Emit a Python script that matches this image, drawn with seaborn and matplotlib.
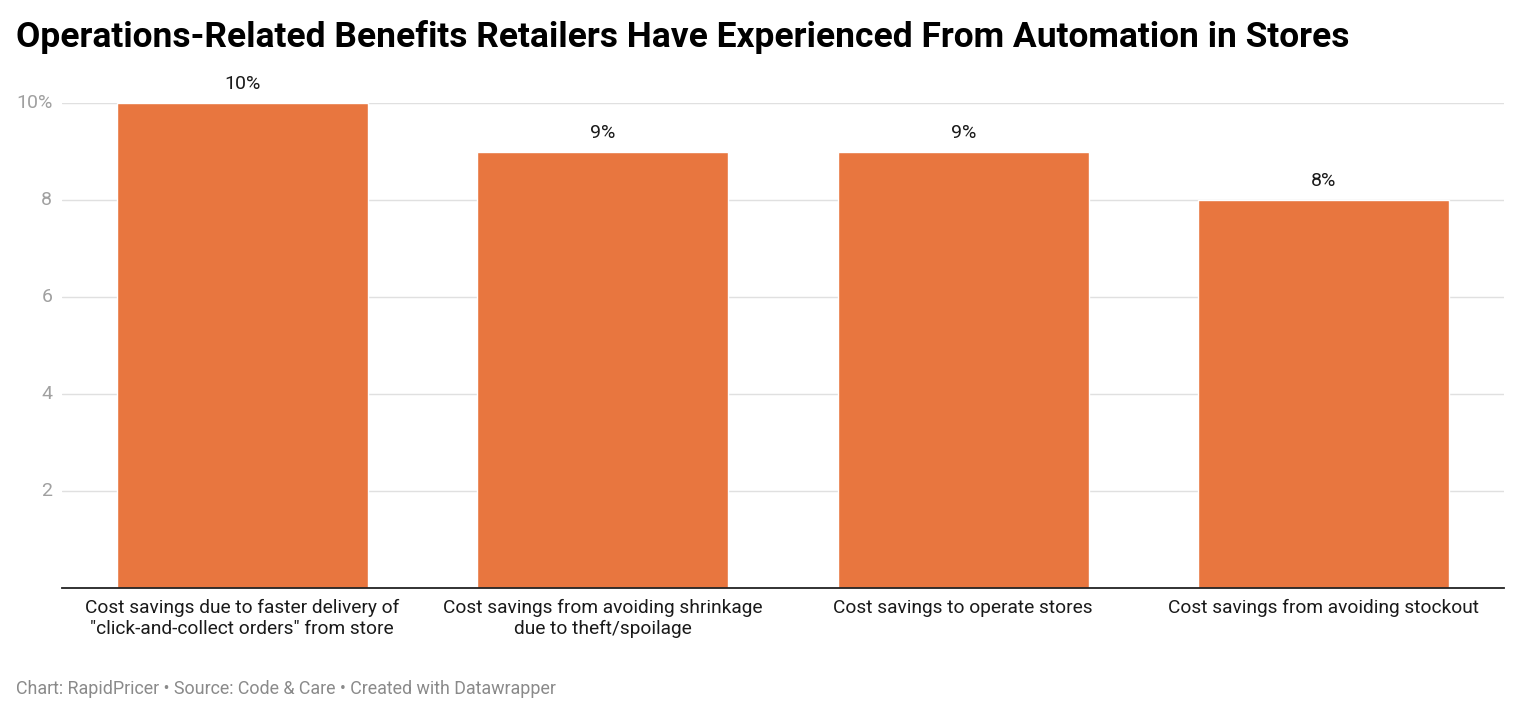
import pandas as pd
import matplotlib.pyplot as plt
import seaborn as sns

categories = ['Cost savings due to faster delivery of\n"click-and-collect orders" from store',
              'Cost savings from avoiding shrinkage\ndue to theft/spoilage',
              'Cost savings to operate stores',
              'Cost savings from avoiding stockout']
values = [10, 9, 9, 8]
yticks = [2, 4, 6, 8, 10]
ytick_labels = ['2', '4', '6', '8', '10%']

df = pd.DataFrame({'benefit': categories, 'pct': values})

sns.set_style('white')
plt.rcParams['font.family'] = ['Roboto', 'DejaVu Sans']

fig = plt.figure(figsize=(15.2, 7.16), dpi=100)
ax = fig.add_axes([62 / 1520, 1 - 588 / 716, 1442 / 1520, 485 / 716])

sns.barplot(data=df, x='benefit', y='pct', color='#e8763f', width=0.696,
            saturation=1, ax=ax, zorder=3)

# value labels above each bar
for i, v in enumerate(values):
    ax.text(i, v + 0.2, f'{v}%', ha='center', va='bottom', fontsize=14, color='#1a1a1a')

ax.set_xlim(-0.5, 3.5)
ax.set_ylim(0, 10)
ax.set_yticks(yticks)
ax.set_yticklabels(ytick_labels)
ax.grid(axis='y', color='#e0e0e0', linewidth=1, zorder=0)
ax.set_axisbelow(True)
ax.tick_params(axis='y', length=0, labelsize=14, labelcolor='#a0a0a0', pad=7)
ax.tick_params(axis='x', length=0, labelsize=13.8, labelcolor='#1a1a1a', pad=8)
for lbl in ax.get_yticklabels():
    lbl.set_verticalalignment('center')
ax.set_xlabel('')
ax.set_ylabel('')
for s in ['top', 'right', 'left']:
    ax.spines[s].set_visible(False)
ax.spines['bottom'].set_color('#222222')
ax.spines['bottom'].set_linewidth(1.3)
ax.spines['bottom'].set_zorder(5)

fig.text(16 / 1520, 1 - 37 / 716, 'Operations-Related Benefits Retailers Have Experienced From Automation in Stores',
         fontsize=25.5, fontweight='bold', va='center', ha='left', color='#000000')
fig.text(16 / 1520, 1 - 689 / 716, 'Chart: RapidPricer • Source: Code & Care • Created with Datawrapper',
         fontsize=12.9, va='center', ha='left', color='#8a8a8a')

fig.savefig('out.png', dpi=100)
